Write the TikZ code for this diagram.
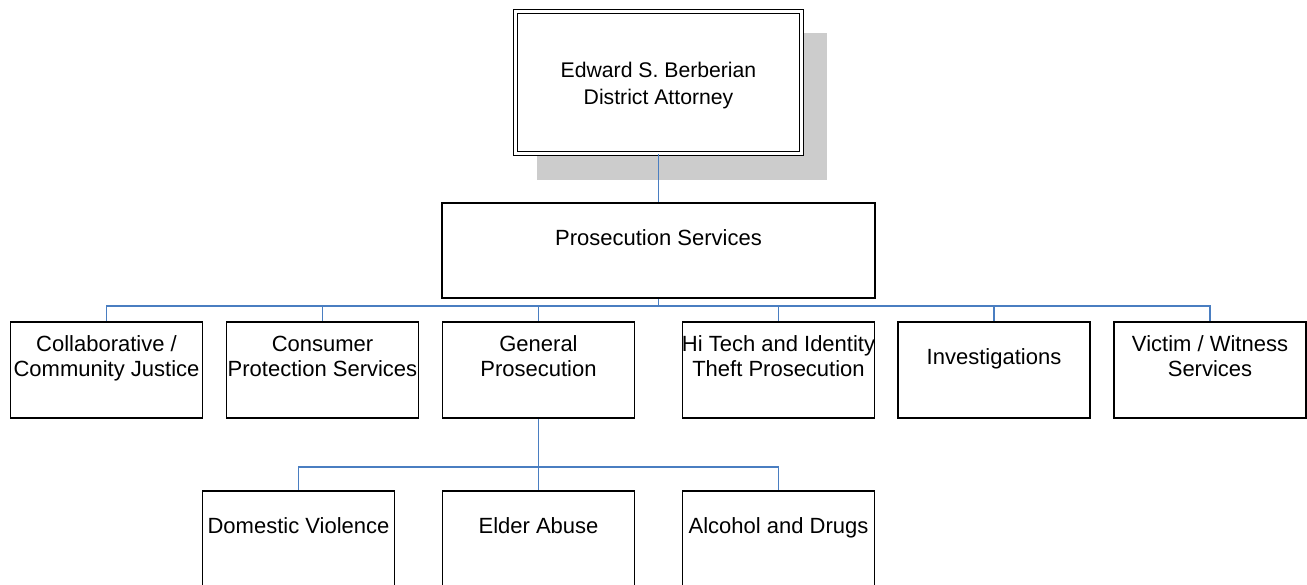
\documentclass[tikz,border=0pt]{standalone}
\usepackage{fontspec}
\setmainfont{Liberation Sans}
\definecolor{linkblue}{RGB}{74,126,193}
\definecolor{shadowgray}{RGB}{204,204,204}
\begin{document}
\begin{tikzpicture}[x=0.5pt,y=-0.5pt,
  every node/.style={font=\fontsize{11pt}{12.5pt}\selectfont},
  orgbox/.style={draw=black, line width=0.75pt, fill=white, minimum width=96pt, minimum height=48pt, inner sep=0pt},
  txt/.style={anchor=center, yshift=-19pt, align=center, inner sep=0pt},
  link/.style={draw=linkblue, line width=0.85pt}
]
\useasboundingbox (0,0) rectangle (1307,584);
\clip (0,0) rectangle (1307,584);
% top box with shadow
\fill[shadowgray] (537,33) rectangle (827,180);
\node[draw=black, fill=white, line width=0.6pt, double, double distance=1.2pt, minimum width=143pt, minimum height=71pt, inner sep=0pt,
  label={[anchor=center, yshift=-1.5pt, align=center, inner sep=0pt, font=\fontsize{10.6pt}{13.5pt}\selectfont]center:Edward S. Berberian\strut\\District Attorney\strut}] (da) at (658.5,82.5) {};
% second level
\node[orgbox, minimum width=216.5pt, minimum height=47.5pt, label={[txt]north:Prosecution Services\strut}] (ps) at (658.5,250.5) {};
% third level
\node[orgbox, label={[txt]north:Collaborative /\strut\\Community Justice\strut}] (cj) at (106.5,370) {};
\node[orgbox, label={[txt]north:Consumer\strut\\Protection Services\strut}] (cp) at (322.5,370) {};
\node[orgbox, label={[txt]north:General\strut\\Prosecution\strut}] (gp) at (538.5,370) {};
\node[orgbox, label={[txt]north:Hi Tech and Identity\strut\\Theft Prosecution\strut}] (ht) at (778.5,370) {};
\node[orgbox, label={[txt]north:Investigations\strut}] (inv) at (994,370) {};
\node[orgbox, label={[txt]north:Victim / Witness\strut\\Services\strut}] (vw) at (1210,370) {};
% fourth level
\node[orgbox, label={[txt]north:Domestic Violence\strut}] (dv) at (298.5,539) {};
\node[orgbox, label={[txt]north:Elder Abuse\strut}] (ea) at (538.5,539) {};
\node[orgbox, label={[txt]north:Alcohol and Drugs\strut}] (ad) at (778.5,539) {};
% connectors
\draw[link] (da.south) -- (ps.north);
\coordinate (bus1) at (658.5,306);
\draw[link] (ps.south) -- (bus1);
\foreach \c in {cj,cp,gp,ht,inv,vw}{
  \draw[link] (bus1) -| (\c.north);
}
\coordinate (bus2) at (538.5,467);
\draw[link] (gp.south) -- (bus2);
\foreach \c in {dv,ea,ad}{
  \draw[link] (bus2) -| (\c.north);
}
\end{tikzpicture}
\end{document}
